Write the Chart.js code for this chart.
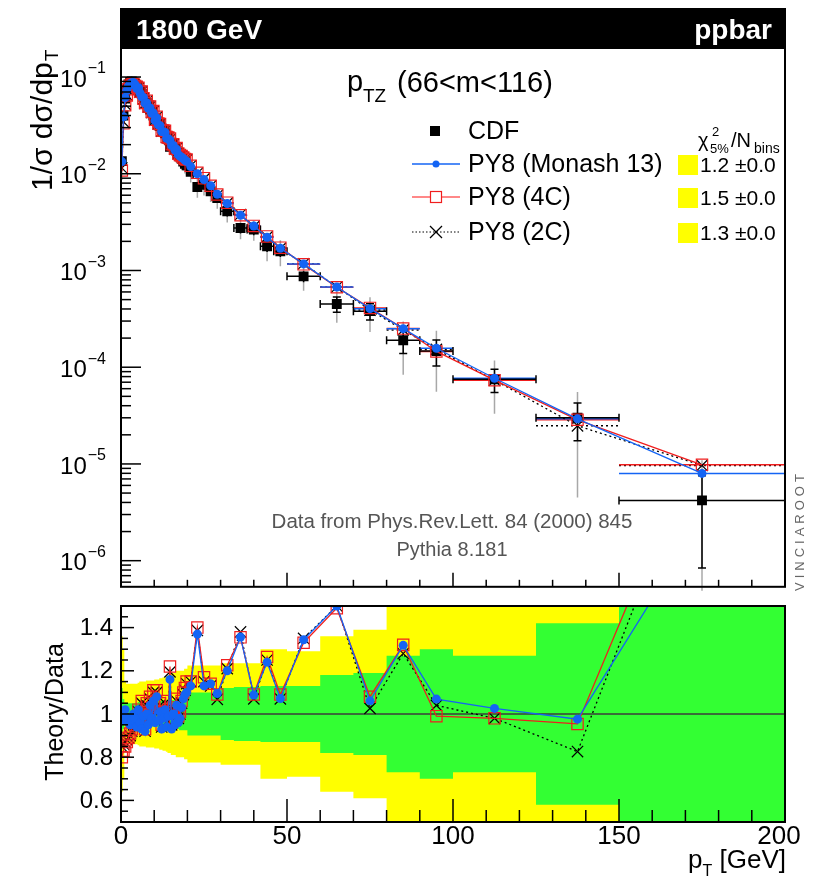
<!DOCTYPE html>
<html>
<head>
<meta charset="utf-8">
<script src="https://cdn.jsdelivr.net/npm/chart.js@4.4.1/dist/chart.umd.min.js"></script>
<style>
  html, body { margin: 0; padding: 0; background: #fff; }
  #wrap { position: relative; width: 829px; height: 879px; overflow: hidden; }
  canvas { position: absolute; left: 0; }
  #mainChart { top: 0; }
  #ratioChart { top: 596px; }
</style>
</head>
<body>
<div id="wrap">
  <canvas id="mainChart" width="829" height="596"></canvas>
  <canvas id="ratioChart" width="829" height="283"></canvas>
</div>
<script>
// ---- data (CDF Z pT, 1800 GeV) ----
const binEdges = [0,0.5,1,1.5,2,2.5,3,3.5,4,4.5,5,5.5,6,6.5,7,7.5,8,8.5,9,9.5,
  10,10.5,11,11.5,12,12.5,13,13.5,14,14.5,15,15.5,16,16.5,17,17.5,18,18.5,19,19.5,
  20,22,24,26,28,30,34,38,42,46,50,60,70,80,90,100,125,150,200];

const cdfValues = [
  0.0135,0.040,0.060,0.074,0.084,0.089,0.090,0.088,0.085,0.081,
  0.076,0.071,0.067,0.062,0.058,0.054,0.050,0.046,0.043,0.040,
  0.0370,0.0350,0.0330,0.0311,0.0294,0.0277,0.0262,0.0247,0.0233,0.0190,
  0.0210,0.0196,0.0185,0.0172,0.0164,0.0155,0.0144,0.0134,0.0127,0.0122,
  0.0105,0.0073,0.0077,0.0066,0.0056,0.0041,0.00275,0.00265,0.00178,0.00158,
  0.00087,0.00045,0.00038,0.00019,0.000147,0.000075,0.000030,0.0000042
];

// relative data uncertainties: inner (green band, black bars), outer (yellow band, grey bars)
const errInner = [
  0.12,0.07,0.05,0.05,0.05,0.05,0.05,0.05,0.05,0.05,
  0.055,0.055,0.055,0.055,0.055,0.055,0.055,0.055,0.055,0.055,
  0.06,0.06,0.06,0.06,0.06,0.065,0.065,0.065,0.065,0.065,
  0.065,0.065,0.07,0.07,0.07,0.075,0.075,0.075,0.075,0.075,
  0.10,0.10,0.10,0.10,0.10,0.12,0.125,0.125,0.13,0.13,
  0.13,0.18,0.19,0.27,0.30,0.27,0.42,0.80
];
const errOuter = [
  0.36,0.30,0.15,0.14,0.14,0.14,0.14,0.14,0.14,0.14,
  0.145,0.15,0.15,0.15,0.15,0.155,0.155,0.155,0.155,0.155,
  0.16,0.16,0.16,0.165,0.165,0.17,0.17,0.175,0.18,0.18,
  0.19,0.19,0.19,0.20,0.20,0.20,0.20,0.20,0.21,0.21,
  0.225,0.225,0.225,0.225,0.225,0.235,0.235,0.235,0.30,0.30,
  0.29,0.36,0.39,0.56,0.62,0.56,0.85,1.60
];

// theory / data
const ratioMonash = [
  0.99,0.97,1.02,0.98,0.96,0.95,0.97,1.00,0.98,0.94,
  1.02,0.96,0.93,0.99,0.92,1.00,0.95,1.04,0.98,1.06,
  0.96,1.08,0.97,1.01,0.93,0.98,1.02,0.94,0.99,1.16,
  0.93,1.00,0.95,1.04,0.96,0.98,1.03,1.07,1.09,1.10,
  1.13,1.37,1.13,1.14,1.095,1.20,1.356,1.088,1.24,1.072,
  1.344,1.50,1.061,1.318,1.069,1.026,0.976,1.90
];
const ratio4C = [
  0.80,0.83,0.85,0.87,0.89,0.91,0.93,0.96,0.95,0.98,
  1.02,0.99,1.06,0.97,0.93,1.05,0.99,1.08,1.01,1.11,
  0.98,1.11,1.00,1.05,0.95,1.01,1.06,0.97,1.02,1.22,
  0.96,1.03,0.98,1.07,0.99,1.01,1.06,1.10,1.12,1.15,
  1.15,1.40,1.17,1.14,1.09,1.226,1.355,1.09,1.264,1.09,
  1.33,1.49,1.08,1.32,0.99,0.98,0.954,2.33
];
const ratio2C = [
  0.85,0.86,0.87,0.88,0.89,0.90,0.92,0.95,0.94,0.97,
  1.01,0.98,1.05,0.96,0.92,1.04,0.98,1.07,1.00,1.10,
  0.97,1.10,0.99,1.04,0.94,1.00,1.05,0.96,1.01,1.195,
  0.95,1.02,0.97,1.06,0.98,1.00,1.05,1.09,1.11,1.14,
  1.15,1.387,1.15,1.13,1.068,1.21,1.38,1.07,1.25,1.07,
  1.35,1.50,1.026,1.28,1.04,0.98,0.826,2.30
];

const chi2Values = ['1.2 \u00b10.0', '1.5 \u00b10.0', '1.3 \u00b10.0'];
const legendNames = ['CDF', 'PY8 (Monash 13)', 'PY8 (4C)', 'PY8 (2C)'];
const xTicksMajor = [0, 50, 100, 150, 200];
const yDecades = [-1, -2, -3, -4, -5, -6];
const ratioTickLabels = [0.6, 0.8, 1, 1.2, 1.4];

// ---- style ----
const FONT = '"Liberation Sans", Arial, Helvetica, sans-serif';
const BLUE = '#1464f4';
const RED = '#f01e1e';
const YELLOW = '#ffff00';
const GREEN = '#33ff33';

const binLo = binEdges.slice(0, -1);
const binHi = binEdges.slice(1);
const binMid = binLo.map((lo, i) => (lo + binHi[i]) / 2);

const mcMonash = cdfValues.map((v, i) => v * ratioMonash[i]);
const mc4C = cdfValues.map((v, i) => v * ratio4C[i]);
const mc2C = cdfValues.map((v, i) => v * ratio2C[i]);

const pts = (vals) => vals.map((v, i) => ({ x: binMid[i], y: v }));
const stepPts = (vals) => binLo.map((lo, i) => ({ x: lo, y: vals[i] }))
  .concat([{ x: 200, y: vals[vals.length - 1] }]);

function seg(ctx, x1, y1, x2, y2) {
  ctx.beginPath(); ctx.moveTo(x1, y1); ctx.lineTo(x2, y2); ctx.stroke();
}

// ---- main panel: error bars (data) and bin bars (MC) ----
const barsPlugin = {
  id: 'bars',
  beforeDatasetsDraw(chart) {
    const { ctx, chartArea: a, scales: { x, y } } = chart;
    ctx.save();
    ctx.beginPath();
    ctx.rect(a.left, a.top, a.right - a.left, a.bottom - a.top + 4);
    ctx.clip();
    const py = (v) => (v > 0 ? y.getPixelForValue(v) : a.bottom + 10);

    // grey outer uncertainty
    ctx.strokeStyle = '#a8a8a8';
    ctx.lineWidth = 1.5;
    cdfValues.forEach((v, i) => {
      const px = x.getPixelForValue(binMid[i]);
      seg(ctx, px, py(v * (1 + errOuter[i])), px, py(v * (1 - errOuter[i])));
    });

    // MC bin bars
    const mcSets = [[mc2C, '#000', [2, 3]], [mc4C, RED, []], [mcMonash, BLUE, []]];
    mcSets.forEach(([vals, col, dash]) => {
      ctx.strokeStyle = col;
      ctx.lineWidth = 1.5;
      ctx.setLineDash(dash);
      vals.forEach((v, i) => {
        const yy = py(v);
        seg(ctx, x.getPixelForValue(binLo[i]), yy, x.getPixelForValue(binHi[i]), yy);
      });
    });
    ctx.setLineDash([]);

    // black data bars with caps
    ctx.strokeStyle = '#000';
    ctx.lineWidth = 1.5;
    cdfValues.forEach((v, i) => {
      const px = x.getPixelForValue(binMid[i]);
      const yy = py(v);
      const x1 = x.getPixelForValue(binLo[i]);
      const x2 = x.getPixelForValue(binHi[i]);
      const yU = py(v * (1 + errInner[i]));
      const yD = py(v * (1 - errInner[i]));
      seg(ctx, x1, yy, x2, yy);
      seg(ctx, px, yU, px, yD);
      if (x2 - x1 > 12) {
        seg(ctx, x1, yy - 4, x1, yy + 4);
        seg(ctx, x2, yy - 4, x2, yy + 4);
      }
      if (Math.abs(yD - yU) > 12) {
        seg(ctx, px - 4, yU, px + 4, yU);
        seg(ctx, px - 4, yD, px + 4, yD);
      }
    });
    ctx.restore();
  }
};

// ---- main panel: frame, ticks, labels, texts, legend ----
const mainDecor = {
  id: 'mainDecor',
  afterDraw(chart) {
    const { ctx, chartArea: a, scales: { x, y } } = chart;
    ctx.save();
    ctx.strokeStyle = '#000';
    ctx.lineWidth = 1.5;
    // log y ticks
    yDecades.concat([-7]).forEach((e) => {
      for (let m = 1; m <= 9; m++) {
        const v = m * Math.pow(10, e);
        if (v < y.min || v > y.max) continue;
        const yy = y.getPixelForValue(v);
        seg(ctx, a.left, yy, a.left + (m === 1 ? 20 : 10), yy);
      }
    });
    // x ticks (inside, bottom)
    for (let v = 0; v <= 200; v += 10) {
      const xx = x.getPixelForValue(v);
      const len = xTicksMajor.includes(v) ? 14 : 7;
      seg(ctx, xx, a.bottom, xx, a.bottom - len);
    }
    // frame
    ctx.lineWidth = 2;
    ctx.strokeRect(a.left, a.top, a.right - a.left, a.bottom - a.top);

    // y labels 10^n
    ctx.fillStyle = '#000';
    yDecades.forEach((e) => {
      const yy = y.getPixelForValue(Math.pow(10, e));
      ctx.textAlign = 'right';
      ctx.textBaseline = 'middle';
      const ex = String(e).replace('-', '\u2212');
      ctx.font = '16px ' + FONT;
      const ew = ctx.measureText(ex).width;
      ctx.fillText(ex, 106, yy - 8);
      ctx.font = '24px ' + FONT;
      ctx.fillText('10', 106 - ew - 1, yy + 3);
    });

    // y title
    ctx.save();
    ctx.translate(52, 191);
    ctx.rotate(-Math.PI / 2);
    ctx.textAlign = 'left';
    ctx.textBaseline = 'alphabetic';
    ctx.font = '30px ' + FONT;
    const t1 = '1/\u03c3 d\u03c3/dp';
    ctx.fillText(t1, 0, 0);
    const w1 = ctx.measureText(t1).width;
    ctx.font = '19px ' + FONT;
    ctx.fillText('T', w1 + 1, 6);
    ctx.restore();

    // header band
    ctx.fillStyle = '#000';
    ctx.fillRect(a.left - 1, 8, a.right - a.left + 2, a.top - 8);
    ctx.fillStyle = '#fff';
    ctx.font = 'bold 28px ' + FONT;
    ctx.textBaseline = 'alphabetic';
    ctx.textAlign = 'left';
    ctx.fillText('1800 GeV', 136, 39);
    ctx.textAlign = 'right';
    ctx.fillText('ppbar', 772, 39);

    // title
    ctx.fillStyle = '#000';
    ctx.textAlign = 'left';
    ctx.font = '29px ' + FONT;
    ctx.fillText('p', 347, 91);
    ctx.font = '19px ' + FONT;
    ctx.fillText('TZ', 363, 102);
    ctx.font = '29px ' + FONT;
    ctx.fillText('(66<m<116)', 397, 92);

    // legend
    ctx.font = '25px ' + FONT;
    ctx.textBaseline = 'middle';
    const rowsY = [131, 164, 197, 232];
    legendNames.forEach((n, i) => ctx.fillText(n, 468, rowsY[i] + 1));
    // CDF marker
    ctx.fillRect(430, rowsY[0] - 5, 10, 10);
    // Monash
    ctx.strokeStyle = BLUE; ctx.lineWidth = 1.5;
    seg(ctx, 412, rowsY[1], 460, rowsY[1]);
    ctx.fillStyle = BLUE;
    ctx.beginPath(); ctx.arc(436, rowsY[1], 3.5, 0, Math.PI * 2); ctx.fill();
    // 4C
    ctx.strokeStyle = '#ff6060'; ctx.lineWidth = 1.5;
    seg(ctx, 412, rowsY[2], 430, rowsY[2]);
    seg(ctx, 442, rowsY[2], 460, rowsY[2]);
    ctx.strokeStyle = RED; ctx.lineWidth = 1.2;
    ctx.strokeRect(430.5, rowsY[2] - 5.5, 11, 11);
    // 2C
    ctx.strokeStyle = '#000'; ctx.lineWidth = 1;
    ctx.setLineDash([1.5, 2]);
    seg(ctx, 412, rowsY[3], 460, rowsY[3]);
    ctx.setLineDash([]);
    ctx.lineWidth = 1.2;
    seg(ctx, 430, rowsY[3] - 6, 442, rowsY[3] + 6);
    seg(ctx, 430, rowsY[3] + 6, 442, rowsY[3] - 6);

    // chi2 column
    ctx.fillStyle = '#000';
    ctx.textBaseline = 'alphabetic';
    ctx.font = '20px ' + FONT;
    ctx.fillText('\u03c7', 698, 147);
    ctx.font = '13px ' + FONT;
    ctx.fillText('2', 712, 136);
    ctx.fillText('5%', 710, 153);
    ctx.font = '20px ' + FONT;
    ctx.fillText('/N', 731, 147);
    ctx.font = '14px ' + FONT;
    ctx.fillText('bins', 754, 153);
    ctx.textBaseline = 'middle';
    ctx.font = '21px ' + FONT;
    chi2Values.forEach((c, i) => {
      const yy = rowsY[i + 1] + 1;
      ctx.fillStyle = YELLOW;
      ctx.fillRect(678, yy - 10, 20, 20);
      ctx.fillStyle = '#000';
      ctx.fillText(c, 700, yy + 1);
    });

    // reference notes
    ctx.fillStyle = '#555';
    ctx.font = '20.5px ' + FONT;
    ctx.textAlign = 'center';
    ctx.fillText('Data from Phys.Rev.Lett. 84 (2000) 845', 452, 522);
    ctx.font = '20px ' + FONT;
    ctx.fillText('Pythia 8.181', 452, 550);

    // VINCIAROOT tag
    ctx.save();
    ctx.translate(800, 591);
    ctx.rotate(-Math.PI / 2);
    ctx.textAlign = 'left';
    ctx.textBaseline = 'middle';
    ctx.font = '13px ' + FONT;
    ctx.letterSpacing = '4px';
    ctx.fillStyle = '#666';
    ctx.fillText('VINCIAROOT', 0, 0);
    ctx.restore();
    ctx.restore();
  }
};

const mainChart = new Chart(document.getElementById('mainChart'), {
  type: 'line',
  data: {
    datasets: [
      {
        label: legendNames[1], data: pts(mcMonash),
        borderColor: BLUE, borderWidth: 1.3, pointStyle: 'circle', pointRadius: 4.5,
        pointBackgroundColor: BLUE, pointBorderColor: BLUE, pointBorderWidth: 0
      },
      {
        label: legendNames[2], data: pts(mc4C),
        borderColor: RED, borderWidth: 1.3, pointStyle: 'rect', pointRadius: 8,
        pointBackgroundColor: 'rgba(0,0,0,0)', pointBorderColor: RED, pointBorderWidth: 1.2
      },
      {
        label: legendNames[3], data: pts(mc2C),
        borderColor: '#000', borderWidth: 1.3, borderDash: [2, 3], pointStyle: 'crossRot', pointRadius: 8,
        pointBorderColor: '#000', pointBorderWidth: 1.2
      },
      {
        label: legendNames[0], data: pts(cdfValues), showLine: false,
        pointStyle: 'rect', pointRadius: 7, pointBackgroundColor: '#000', pointBorderColor: '#000', pointBorderWidth: 0
      }
    ]
  },
  options: {
    responsive: false,
    animation: false,
    events: [],
    layout: { padding: { left: 121, right: 44, top: 48, bottom: 8 } },
    plugins: { legend: { display: false }, tooltip: { enabled: false } },
    scales: {
      x: { type: 'linear', min: 0, max: 200, display: false },
      y: { type: 'logarithmic', min: Math.pow(10, -6.27), max: Math.pow(10, -0.70), display: false }
    }
  },
  plugins: [barsPlugin, mainDecor]
});

// ---- ratio panel ----
const ratioDecor = {
  id: 'ratioDecor',
  afterDraw(chart) {
    const { ctx, chartArea: a, scales: { x, y } } = chart;
    ctx.save();
    ctx.strokeStyle = '#000';
    ctx.lineWidth = 1.5;
    for (let k = 10; k <= 30; k++) {
      const v = k * 0.05;
      const yy = y.getPixelForValue(v);
      if (yy < a.top || yy > a.bottom) continue;
      const major = ratioTickLabels.some((t) => Math.abs(t - v) < 1e-6);
      seg(ctx, a.left, yy, a.left + (major ? 13 : 7), yy);
    }
    for (let v = 0; v <= 200; v += 10) {
      const xx = x.getPixelForValue(v);
      const len = xTicksMajor.includes(v) ? 23 : 12;
      seg(ctx, xx, a.bottom, xx, a.bottom - len);
    }
    ctx.lineWidth = 2;
    ctx.strokeRect(a.left, a.top, a.right - a.left, a.bottom - a.top);

    ctx.fillStyle = '#000';
    ctx.font = '24px ' + FONT;
    ctx.textAlign = 'right';
    ctx.textBaseline = 'middle';
    ratioTickLabels.forEach((t) => ctx.fillText(String(t), 113, y.getPixelForValue(t) + 1));

    ctx.textAlign = 'center';
    ctx.textBaseline = 'top';
    ctx.font = '26px ' + FONT;
    xTicksMajor.forEach((t) => {
      const xx = t === 200 ? x.getPixelForValue(t) - 6 : x.getPixelForValue(t);
      ctx.fillText(String(t), xx, a.bottom + 2);
    });

    // x title
    ctx.textAlign = 'right';
    ctx.textBaseline = 'alphabetic';
    ctx.font = '26px ' + FONT;
    const gw = ctx.measureText(' [GeV]').width;
    ctx.fillText(' [GeV]', 786, 272);
    ctx.font = '16px ' + FONT;
    const tw = ctx.measureText('T').width;
    ctx.fillText('T', 786 - gw, 280);
    ctx.font = '26px ' + FONT;
    ctx.fillText('p', 786 - gw - tw, 272);

    // y title
    ctx.save();
    ctx.translate(63, 116);
    ctx.rotate(-Math.PI / 2);
    ctx.textAlign = 'center';
    ctx.textBaseline = 'alphabetic';
    ctx.font = '25px ' + FONT;
    ctx.fillText('Theory/Data', 0, 0);
    ctx.restore();
    ctx.restore();
  }
};

const ratioChart = new Chart(document.getElementById('ratioChart'), {
  type: 'line',
  data: {
    datasets: [
      {
        label: legendNames[1], data: pts(ratioMonash),
        borderColor: BLUE, borderWidth: 1.3, pointStyle: 'circle', pointRadius: 4.5,
        pointBackgroundColor: BLUE, pointBorderColor: BLUE, pointBorderWidth: 0
      },
      {
        label: legendNames[2], data: pts(ratio4C),
        borderColor: RED, borderWidth: 1.3, pointStyle: 'rect', pointRadius: 8,
        pointBackgroundColor: 'rgba(0,0,0,0)', pointBorderColor: RED, pointBorderWidth: 1.2
      },
      {
        label: legendNames[3], data: pts(ratio2C),
        borderColor: '#000', borderWidth: 1.3, borderDash: [2, 3], pointStyle: 'crossRot', pointRadius: 8,
        pointBorderColor: '#000', pointBorderWidth: 1.2
      },
      {
        label: 'unity', data: [{ x: 0, y: 1 }, { x: 200, y: 1 }],
        borderColor: '#3c3c3c', borderWidth: 1.5, pointRadius: 0
      },
      {
        label: 'inner up', data: stepPts(errInner.map((e) => 1 + e)), stepped: true,
        borderWidth: 0, pointRadius: 0, backgroundColor: GREEN, fill: '+1'
      },
      {
        label: 'inner down', data: stepPts(errInner.map((e) => 1 - e)), stepped: true,
        borderWidth: 0, pointRadius: 0, fill: false
      },
      {
        label: 'outer up', data: stepPts(errOuter.map((e) => 1 + e)), stepped: true,
        borderWidth: 0, pointRadius: 0, backgroundColor: YELLOW, fill: '+1'
      },
      {
        label: 'outer down', data: stepPts(errOuter.map((e) => 1 - e)), stepped: true,
        borderWidth: 0, pointRadius: 0, fill: false
      }
    ]
  },
  options: {
    responsive: false,
    animation: false,
    events: [],
    layout: { padding: { left: 121, right: 44, top: 10, bottom: 57 } },
    plugins: { legend: { display: false }, tooltip: { enabled: false } },
    scales: {
      x: { type: 'linear', min: 0, max: 200, display: false },
      y: { type: 'linear', min: 0.5, max: 1.5, display: false }
    }
  },
  plugins: [ratioDecor]
});
</script>
</body>
</html>
